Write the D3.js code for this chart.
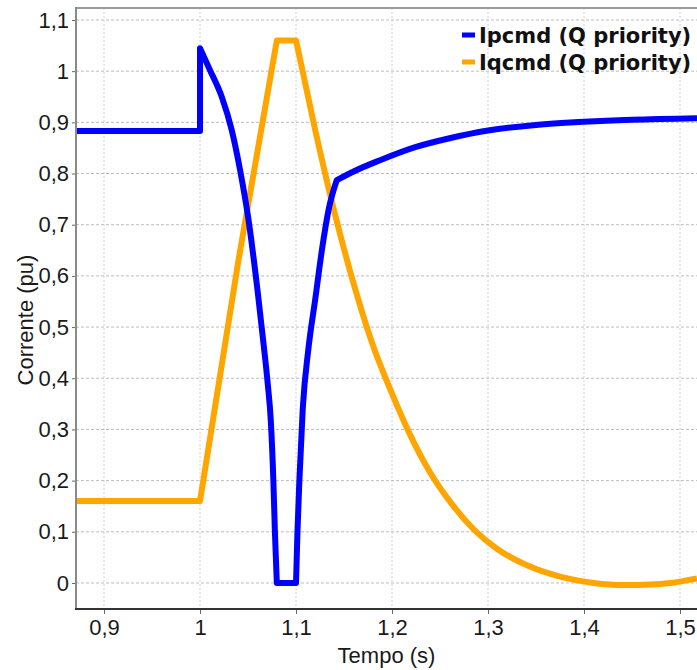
<!DOCTYPE html>
<html>
<head>
<meta charset="utf-8">
<script src="https://cdn.jsdelivr.net/npm/d3@7"></script>
<style>
  body { margin: 0; background: #fff; }
  svg { display: block; }
</style>
</head>
<body>
<svg width="697" height="670"></svg>
<script>
// Ipcmd (blue)
var timeIp = [0.8708, 1.0, 1.0, 1.0104, 1.0226, 1.033, 1.0417, 1.05, 1.06, 1.066, 1.0705, 1.0737,
              1.0764, 1.078, 1.08, 1.1, 1.1015, 1.1035, 1.107, 1.1128, 1.12, 1.127, 1.134, 1.1424,
              1.16, 1.1875, 1.225, 1.26, 1.3, 1.35, 1.4, 1.45, 1.5177];
var ipcmd  = [0.883, 0.883, 1.045, 1.002, 0.95, 0.885, 0.807, 0.716, 0.57, 0.47, 0.39, 0.318,
              0.20, 0.10, 0.0, 0.0, 0.1, 0.2, 0.34, 0.456, 0.554, 0.651, 0.73, 0.787,
              0.804, 0.826, 0.852, 0.869, 0.884, 0.895, 0.901, 0.905, 0.908];
// indices where the trace has a corner (step, flat start/end, kink)
var ipCorners = [0, 1, 2, 14, 15, 23, 32];

// Iqcmd (orange)
var timeIq = [0.8708, 1.0, 1.04, 1.08, 1.1, 1.12, 1.14, 1.16, 1.18, 1.2, 1.22, 1.24,
              1.26, 1.285, 1.31, 1.34, 1.378, 1.41, 1.441, 1.47, 1.49, 1.5177];
var iqcmd  = [0.16, 0.16, 0.63, 1.06, 1.06, 0.885, 0.725, 0.585, 0.465, 0.37, 0.285, 0.215,
              0.16, 0.105, 0.066, 0.035, 0.011, 0.0, -0.004, -0.003, 0.0, 0.009];
var iqCorners = [0, 1, 3, 4, 21];

var xTicks = [0.9, 1.0, 1.1, 1.2, 1.3, 1.4, 1.5];
var yTicks = [0, 0.1, 0.2, 0.3, 0.4, 0.5, 0.6, 0.7, 0.8, 0.9, 1.0, 1.1];
var seriesNames = ["Ipcmd (Q priority)", "Iqcmd (Q priority)"];
var seriesColors = ["#0000ff", "#ffa500"];

var svg = d3.select("svg");
var pLeft = 76, pTop = 8, pRight = 697, pBottom = 609;

var x = d3.scaleLinear().domain([0.8708, 1.5177]).range([pLeft, pRight]);
var y = d3.scaleLinear().domain([-0.0508, 1.1234]).range([pBottom, pTop]);

var fmt = d3.formatLocale({decimal: ",", thousands: ".", grouping: [3], currency: ["", ""]}).format("~g");

// grid
svg.append("g").selectAll("line")
    .data(xTicks).enter().append("line")
    .attr("x1", d => x(d)).attr("x2", d => x(d))
    .attr("y1", pTop).attr("y2", pBottom)
    .attr("stroke", "#d0d0da").attr("stroke-width", 1).attr("stroke-dasharray", "2,2");
svg.append("g").selectAll("line")
    .data(yTicks).enter().append("line")
    .attr("x1", pLeft).attr("x2", pRight)
    .attr("y1", d => y(d)).attr("y2", d => y(d))
    .attr("stroke", "#bdbdbd").attr("stroke-width", 1).attr("stroke-dasharray", "3,2");

// axes
var gx = svg.append("g").attr("transform", "translate(0," + pBottom + ")")
    .call(d3.axisBottom(x).tickValues(xTicks).tickSize(5).tickPadding(5).tickFormat(fmt));
var gy = svg.append("g").attr("transform", "translate(" + pLeft + ",0)")
    .call(d3.axisLeft(y).tickValues(yTicks).tickSize(4).tickPadding(3).tickFormat(fmt));
[gx, gy].forEach(function(g) {
    g.select(".domain").remove();
    g.selectAll(".tick line").attr("stroke", "#666");
    g.selectAll("text").attr("font-family", "Liberation Sans, Arial, sans-serif")
        .attr("font-size", 22).attr("fill", "#1a1a1a");
});

// frame
svg.append("line").attr("x1", pLeft).attr("x2", pRight).attr("y1", pTop).attr("y2", pTop)
    .attr("stroke", "#9a9a9a").attr("stroke-width", 2);
svg.append("line").attr("x1", pLeft).attr("x2", pLeft).attr("y1", pTop - 1).attr("y2", pBottom + 1)
    .attr("stroke", "#8a8a8a").attr("stroke-width", 2);
svg.append("line").attr("x1", pLeft - 1).attr("x2", pRight).attr("y1", pBottom).attr("y2", pBottom)
    .attr("stroke", "#333").attr("stroke-width", 2);

// curves: smooth between corners, sharp at corners
svg.append("clipPath").attr("id", "plot")
    .append("rect").attr("x", pLeft + 1).attr("y", pTop + 1)
    .attr("width", pRight - pLeft).attr("height", pBottom - pTop - 2);

var lineMaker = d3.line().x(d => x(d[0])).y(d => y(d[1])).curve(d3.curveMonotoneX);

function tracePath(ts, vs, corners) {
    var pts = d3.zip(ts, vs), d = "";
    for (var k = 0; k < corners.length - 1; k++) {
        var seg = lineMaker(pts.slice(corners[k], corners[k + 1] + 1));
        d += (k === 0) ? seg : seg.replace(/^M[^A-Za-z]*/, "L" + seg.match(/^M([^A-Za-z]*)/)[1]);
    }
    return d;
}
var paths = [tracePath(timeIp, ipcmd, ipCorners), tracePath(timeIq, iqcmd, iqCorners)];

svg.append("g").attr("clip-path", "url(#plot)")
    .selectAll("path")
    .data([1, 0]).enter()
    .append("path")
    .attr("fill", "none")
    .attr("stroke", i => seriesColors[i])
    .attr("stroke-width", 6)
    .attr("stroke-linejoin", "round")
    .attr("d", i => paths[i]);

// legend
var lg = svg.append("g").selectAll("g")
    .data(seriesNames).enter().append("g")
    .attr("transform", (d, i) => "translate(0," + (35 + i * 27) + ")");
lg.append("line").attr("x1", 462).attr("x2", 475).attr("y1", 0).attr("y2", 0)
    .attr("stroke", (d, i) => seriesColors[i]).attr("stroke-width", 5);
lg.append("text").attr("x", 479).attr("y", 7.5)
    .attr("font-family", "DejaVu Sans, sans-serif").attr("font-weight", "bold")
    .attr("font-size", 21).attr("fill", "#111")
    .text(d => d);

// axis titles
svg.append("text").attr("x", (pLeft + pRight) / 2).attr("y", 663)
    .attr("text-anchor", "middle")
    .attr("font-family", "Liberation Sans, Arial, sans-serif").attr("font-size", 22).attr("fill", "#1a1a1a")
    .text("Tempo (s)");
svg.append("text").attr("transform", "translate(33,320) rotate(-90)")
    .attr("text-anchor", "middle")
    .attr("font-family", "Liberation Sans, Arial, sans-serif").attr("font-size", 22).attr("fill", "#1a1a1a")
    .text("Corrente (pu)");
</script>
</body>
</html>
